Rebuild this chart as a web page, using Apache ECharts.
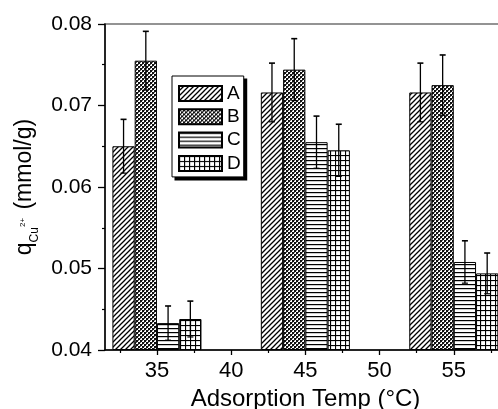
<!DOCTYPE html>
<html>
<head>
<meta charset="utf-8">
<script src="https://cdn.jsdelivr.net/npm/echarts@6/dist/echarts.min.js"></script>
<style>
html,body{margin:0;padding:0;background:#fff;}
#chart{width:498px;height:409px;}
</style>
</head>
<body>
<div id="chart"></div>
<script>
// ---- data ----
var temps = [35, 45, 55];
var seriesNames = ['A', 'B', 'C', 'D'];
var valuesA = [0.0650, 0.0716, 0.0716];
var valuesB = [0.0755, 0.0744, 0.0725];
var valuesC = [0.0433, 0.0655, 0.0508];
var valuesD = [0.0438, 0.0645, 0.0494];
var errA = [0.0033, 0.0036, 0.0036];
var errB = [0.0036, 0.0038, 0.0037];
var errC = [0.0021, 0.0032, 0.0026];
var errD = [0.0022, 0.0032, 0.0025];
var xTickValues = [35, 40, 45, 50, 55, 60];
var xMinorTickValues = [32.5, 37.5, 42.5, 47.5, 52.5, 57.5];

// ---- patterns ----
function makeCanvas(w, h, draw) {
  var c = document.createElement('canvas');
  c.width = w; c.height = h;
  var ctx = c.getContext('2d');
  ctx.fillStyle = '#fff';
  ctx.fillRect(0, 0, w, h);
  draw(ctx);
  return c;
}
var patA = makeCanvas(5, 5, function (ctx) {
  ctx.strokeStyle = '#000'; ctx.lineWidth = 1.3;
  ctx.beginPath();
  ctx.moveTo(-1, 6); ctx.lineTo(6, -1);
  ctx.moveTo(-1, 1); ctx.lineTo(1, -1);
  ctx.moveTo(4, 6); ctx.lineTo(6, 4);
  ctx.stroke();
});
var patB = makeCanvas(4, 4, function (ctx) {
  ctx.fillStyle = '#111';
  ctx.fillRect(0, 0, 2, 2);
  ctx.fillRect(2, 2, 2, 2);
  ctx.fillStyle = '#666';
  ctx.fillRect(2, 0, 1, 1);
  ctx.fillRect(0, 2, 1, 1);
});
var patC = makeCanvas(4, 4, function (ctx) {
  ctx.fillStyle = '#000';
  ctx.fillRect(0, 0, 4, 1.2);
});
var patD = makeCanvas(5, 5, function (ctx) {
  ctx.fillStyle = '#000';
  ctx.fillRect(0, 0, 5, 1.1);
  ctx.fillRect(0, 0, 1.1, 5);
});
var patterns = [patA, patB, patC, patD];
var valueSets = [valuesA, valuesB, valuesC, valuesD];
var errSets = [errA, errB, errC, errD];

var barSpan = 1.5;     // bar width in data units (x)
var barWidthPct = '15%'; // = barSpan / gap(10) of temps

var series = [];
seriesNames.forEach(function (name, i) {
  series.push({
    name: name,
    type: 'bar',
    barWidth: barWidthPct,
    barGap: '0%',
    data: temps.map(function (t, k) { return [t, valueSets[i][k]]; }),
    itemStyle: {
      color: { image: patterns[i], repeat: 'repeat' },
      borderColor: '#000',
      borderWidth: 1
    },
    emphasis: { disabled: true },
    z: 2
  });
});
seriesNames.forEach(function (name, i) {
  series.push({
    type: 'custom',
    z: 5,
    silent: true,
    data: temps.map(function (t, k) { return [t, valueSets[i][k], errSets[i][k]]; }),
    renderItem: function (params, api) {
      var x = api.value(0) + (i - 1.5) * barSpan;
      var y = api.value(1), e = api.value(2);
      var top = api.coord([x, y + e]);
      var bot = api.coord([x, y - e]);
      var cw = 3;
      var st = { stroke: '#000', lineWidth: 1.3 };
      return {
        type: 'group',
        children: [
          { type: 'line', shape: { x1: top[0], y1: top[1], x2: bot[0], y2: bot[1] }, style: st },
          { type: 'line', shape: { x1: top[0] - cw, y1: top[1], x2: top[0] + cw, y2: top[1] }, style: { stroke: '#000', lineWidth: 1.6 } },
          { type: 'line', shape: { x1: bot[0] - cw, y1: bot[1], x2: bot[0] + cw, y2: bot[1] }, style: { stroke: '#000', lineWidth: 1.2 } }
        ]
      };
    }
  });
});

var chart = echarts.init(document.getElementById('chart'), null, { renderer: 'canvas' });
var font = '"Liberation Sans", Arial, sans-serif';
var legendPos = { left: 172, top: 76 };
var shadowOffset = 3;
chart.setOption({
  animation: false,
  backgroundColor: '#fff',
  textStyle: { fontFamily: font },
  grid: {
    left: 105, top: 24, right: -30, bottom: 59,
    outerBoundsMode: 'none',
    containLabel: false,
    show: true, borderColor: '#707070', borderWidth: 1.5, backgroundColor: 'transparent'
  },
  legend: {
    data: seriesNames,
    orient: 'vertical',
    left: legendPos.left, top: legendPos.top,
    itemWidth: 43, itemHeight: 15, itemGap: 4.3,
    padding: [8, 3, 4, 6],
    backgroundColor: '#fff',
    borderColor: '#000', borderWidth: 1,
    icon: 'rect',
    selectedMode: false,
    z: 4,
    textStyle: { fontSize: 19, color: '#000', fontFamily: font }
  },
  xAxis: [{
    type: 'value',
    min: 31.5, max: 60,
    name: 'Adsorption Temp (°C)',
    nameLocation: 'middle',
    nameGap: 30,
    nameTextStyle: { fontSize: 24, color: '#000', fontFamily: font, padding: [0, 22, 0, 0] },
    axisLine: { show: true, onZero: false, lineStyle: { color: '#000', width: 1.5 } },
    axisTick: { show: true, length: 5, customValues: xTickValues, lineStyle: { color: '#000', width: 1.3 } },
    axisLabel: { customValues: xTickValues, fontSize: 22, color: '#000', margin: 10, fontFamily: font },
    splitLine: { show: false }
  }, {
    type: 'value',
    min: 31.5, max: 60,
    position: 'bottom',
    axisLine: { show: false },
    axisTick: { show: true, length: 3, customValues: xMinorTickValues, lineStyle: { color: '#000', width: 1.2 } },
    axisLabel: { show: false, customValues: xMinorTickValues },
    splitLine: { show: false }
  }],
  yAxis: {
    type: 'value',
    min: 0.04, max: 0.08, interval: 0.01,
    startValue: 0.04,
    name: '{q|q}{sub|Cu}{sup|2+}{q| (mmol/g)}',
    nameLocation: 'middle',
    nameGap: 62,
    nameRotate: 90,
    nameTextStyle: {
      color: '#000', fontFamily: font, fontSize: 23,
      rich: {
        q: { fontSize: 23, color: '#000', fontFamily: font, verticalAlign: 'bottom', lineHeight: 26 },
        sub: { fontSize: 12, color: '#000', fontFamily: font, verticalAlign: 'bottom', lineHeight: 26, padding: [0, 0, -4, 0] },
        sup: { fontSize: 8, color: '#000', fontFamily: font, verticalAlign: 'bottom', lineHeight: 26, padding: [0, 2, 9, 0] }
      }
    },
    axisLine: { show: true, onZero: false, lineStyle: { color: '#000', width: 1.5 } },
    axisTick: { show: true, length: 7, lineStyle: { color: '#000', width: 1.3 } },
    minorTick: { show: true, splitNumber: 2, length: 3, lineStyle: { color: '#000', width: 1.2 } },
    axisLabel: {
      fontSize: 21, color: '#000', margin: 13, fontFamily: font,
      formatter: function (v) { return v.toFixed(2); }
    },
    splitLine: { show: false }
  },
  series: series
});

// legend drop shadow: a black rect behind the legend box, sized from the rendered legend
(function () {
  var rect = { x: legendPos.left, y: legendPos.top, width: 69, height: 101 };
  try {
    var lm = chart.getModel().getComponent('legend', 0);
    var view = chart.getViewOfComponentModel(lm);
    var g = view.group;
    var r = g.getBoundingRect();
    rect = { x: r.x + g.x, y: r.y + g.y, width: r.width, height: r.height };
  } catch (e) {}
  chart.setOption({
    graphic: [{
      type: 'rect',
      z: 3,
      silent: true,
      shape: { x: rect.x + shadowOffset, y: rect.y + shadowOffset, width: rect.width, height: rect.height },
      style: { fill: '#000' }
    }]
  });
})();
</script>
</body>
</html>
